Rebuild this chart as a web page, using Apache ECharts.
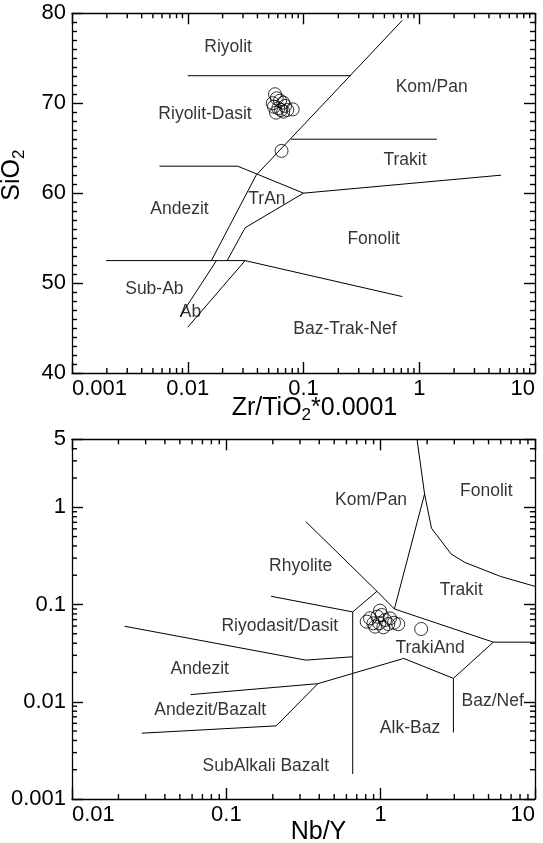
<!DOCTYPE html>
<html><head><meta charset="utf-8">
<script src="https://cdn.jsdelivr.net/npm/echarts@6/dist/echarts.min.js"></script>
<style>html,body{margin:0;padding:0;background:#fff}#c{width:543px;height:843px}</style>
</head><body><div id="c"></div>
<script>
// ================= DATA =================
// --- Top panel: SiO2 vs Zr/TiO2*0.0001 ---
const topSamples = [
  [0.0567,71.0],[0.0587,70.55],[0.0627,70.28],[0.0556,69.61],[0.0579,68.95],
  [0.0640,69.25],[0.0692,69.7],[0.0725,69.25],[0.0806,69.32],[0.0669,69.06],
  [0.0606,69.44],[0.0542,70.0],[0.0669,70.07],[0.0646,64.7]
];
const topRiyolitLine   = [[0.01,73.06],[0.2566,73.06]];
const topDiagonal      = [[0.713,79.2],[0.039,62.0],[0.0160,52.5]];
const topSubAbAbLine   = [[0.0177,52.5],[0.0086,46.3]];
const topTrAnRight     = [[0.1,60.0],[0.0313,56.15],[0.0219,52.5]];
const topHorizontal52  = [[0.00197,52.5],[0.0313,52.5]];
const topAbRight       = [[0.0313,52.5],[0.0100,45.1]];
const topFonolitBTN    = [[0.0313,52.5],[0.713,48.5]];
const topAndezitTrAn   = [[0.0057,63.0],[0.027,63.0],[0.1,60.0]];
const topTrakitFonolit = [[0.1,60.0],[5.1,62.0]];
const topKomPanTrakit  = [[0.0777,66.0],[1.42,66.0]];
const topFieldNames = ['Riyolit','Kom/Pan','Riyolit-Dasit','Trakit','TrAn','Andezit','Fonolit','Sub-Ab','Ab','Baz-Trak-Nef'];
const topFieldX     = [0.0223,1.28,0.0141,0.753,0.0483,0.00848,0.404,0.00515,0.01057,0.228];
const topFieldY     = [76.2,71.76,68.76,63.67,59.3,58.22,54.9,49.3,46.8,44.86];

// --- Bottom panel: Zr/TiO2*0.0001 vs Nb/Y ---
const botSamples = [
  [0.812,0.0666],[0.897,0.0641],[0.952,0.075],[0.990,0.0864],[1.016,0.078],
  [0.980,0.0641],[1.067,0.0693],[1.12,0.063],[1.22,0.065],[1.30,0.0627],
  [1.04,0.0583],[0.919,0.0592],[0.853,0.0721],[1.15,0.0721],[1.83,0.056]
];
const botFonolitLine   = [[1.72,5],[1.925,1.37],[2.135,0.609],[2.855,0.332],[3.51,0.271],[5.96,0.1947],[10,0.1537]];
const botKomPanTrakit  = [[1.925,1.37],[1.227,0.090]];
const botRhyoliteUpper = [[0.327,0.713],[0.947,0.1367],[1.227,0.090]];
const botRiyodasitBox  = [[0.947,0.1367],[0.659,0.0839],[0.659,0.00181]];
const botRhyRiyodasit  = [[0.195,0.1215],[0.659,0.0839]];
const botAndezitRiyo   = [[0.0219,0.0598],[0.327,0.0268],[0.659,0.029]];
const botAndezitAB     = [[0.0586,0.01184],[0.392,0.01534],[1.411,0.0279],[2.96,0.0174],[5.37,0.041],[10,0.041]];
const botTrakiUpper    = [[1.227,0.090],[5.37,0.041]];
const botAlkBazNef     = [[2.96,0.0174],[2.96,0.00483]];
const botABSubAlk      = [[0.02834,0.00475],[0.2105,0.00565],[0.392,0.01534]];
const botFieldNames = ['Fonolit','Kom/Pan','Rhyolite','Trakit','Riyodasit/Dasit','TrakiAnd','Andezit','Baz/Nef','Andezit/Bazalt','Alk-Baz','SubAlkali Bazalt'];
const botFieldX     = [4.84,0.867,0.303,3.33,0.222,2.09,0.0673,5.32,0.0787,1.549,0.1803];
const botFieldY     = [1.48,1.17,0.2505,0.14,0.0598,0.0359,0.0215,0.0102,0.00818,0.0053,0.0022];

// minor tick multipliers for log axes
const logMinorMult = [2,3,4,5,6,7,8,9];
const topXDecades = [0.001,0.01,0.1,1];
const botXDecades = [0.01,0.1,1];
const botYDecades = [0.001,0.01,0.1,1];

// ================= STYLE =================
const FONT = "'Liberation Sans', Arial, Helvetica, sans-serif";
const INK = '#000';
const MAJOR = 11, MINOR = 5, TICKW = 1.4;
const G0 = {left:72, top:13.3, width:463, height:359.7, outerBoundsMode:'none', containLabel:false};
const G1 = {left:72, top:439.3, width:463, height:359.7, outerBoundsMode:'none', containLabel:false};

function minorList(decades, maxV){
  const out = [];
  decades.forEach(d => logMinorMult.forEach(m => { const v = +(m*d).toPrecision(6); if (v < maxV) out.push(v); }));
  return out;
}

function axisCommon(extra){
  return Object.assign({
    axisLine:{show:true, lineStyle:{color:INK, width:1.3}},
    axisTick:{show:true, inside:true, length:MAJOR, lineStyle:{color:INK, width:TICKW}},
    splitLine:{show:false},
    axisLabel:{color:INK, fontFamily:FONT, fontSize:22},
  }, extra);
}

const nameRich = {
  a:{fontFamily:FONT, fontSize:25, color:INK},
  s:{fontFamily:FONT, fontSize:17, color:INK, padding:[14,0,0,0]}
};

function lineSeries(data, xi, yi){
  return {type:'line', xAxisIndex:xi, yAxisIndex:yi, data:data, symbol:'none', silent:true,
    lineStyle:{color:INK, width:1}, z:3};
}

function labelSeries(names, xs, ys, xi, yi){
  return {type:'scatter', xAxisIndex:xi, yAxisIndex:yi, symbolSize:0, silent:true,
    data: names.map((n,i)=>({name:n, value:[xs[i], ys[i]]})),
    label:{show:true, position:'inside', formatter:'{b}', color:INK, fontFamily:FONT, fontSize:17.5}, z:4};
}

function xMinorSeries(vals, yLo, yHi, xi, yi){
  return {type:'custom', xAxisIndex:xi, yAxisIndex:yi, z:6,
    data: vals.map(v=>[v, yLo]),
    renderItem:(params, api)=>{
      const v = api.value(0);
      const b = api.coord([v, yLo]), t = api.coord([v, yHi]);
      return {type:'group', children:[
        {type:'line', shape:{x1:b[0], y1:b[1], x2:b[0], y2:b[1]-MINOR}, style:{stroke:INK, lineWidth:TICKW}},
        {type:'line', shape:{x1:t[0], y1:t[1], x2:t[0], y2:t[1]+MINOR}, style:{stroke:INK, lineWidth:TICKW}}
      ]};
    }};
}
function yMinorSeries(vals, xLo, xHi, xi, yi){
  return {type:'custom', xAxisIndex:xi, yAxisIndex:yi, z:6,
    data: vals.map(v=>[xLo, v]),
    renderItem:(params, api)=>{
      const v = api.value(1);
      const l = api.coord([xLo, v]), r = api.coord([xHi, v]);
      return {type:'group', children:[
        {type:'line', shape:{x1:l[0], y1:l[1], x2:l[0]+MINOR, y2:l[1]}, style:{stroke:INK, lineWidth:TICKW}},
        {type:'line', shape:{x1:r[0], y1:r[1], x2:r[0]-MINOR, y2:r[1]}, style:{stroke:INK, lineWidth:TICKW}}
      ]};
    }};
}

const sampleStyle = {color:'rgba(0,0,0,0)', borderColor:INK, borderWidth:1};
const minorTickStyle = {show:true, splitNumber:10, length:MINOR, lineStyle:{color:INK, width:TICKW}};

const option = {
  animation:false,
  backgroundColor:'#fff',
  grid:[G0, G1],
  xAxis:[
    axisCommon({type:'log', logBase:10, gridIndex:0, position:'bottom', min:0.001, max:10,
      axisLabel:{color:INK, fontFamily:FONT, fontSize:22, margin:5, alignMinLabel:'left', alignMaxLabel:'right'},
      name:'{a|Zr/TiO}{s|2}{a|*0.0001}', nameLocation:'middle', nameGap:20, nameMoveOverlap:false,
      nameTextStyle:{rich:nameRich, padding:[0,0,0,22]}}),
    axisCommon({type:'log', logBase:10, gridIndex:0, position:'top', min:0.001, max:10, axisLabel:{show:false}}),
    axisCommon({type:'log', logBase:10, gridIndex:1, position:'bottom', min:0.01, max:10,
      axisLabel:{color:INK, fontFamily:FONT, fontSize:22, margin:5, alignMinLabel:'left', alignMaxLabel:'right'},
      name:'{a|Nb/Y}', nameLocation:'middle', nameGap:21, nameMoveOverlap:false,
      nameTextStyle:{rich:nameRich, padding:[0,0,0,30]}}),
    axisCommon({type:'log', logBase:10, gridIndex:1, position:'top', min:0.01, max:10, axisLabel:{show:false}})
  ],
  yAxis:[
    axisCommon({type:'value', gridIndex:0, position:'left', min:40, max:80, interval:10,
      minorTick:minorTickStyle,
      axisLabel:{color:INK, fontFamily:FONT, fontSize:22, margin:6},
      name:'{a|SiO}{s|2}', nameLocation:'middle', nameGap:44,
      nameTextStyle:{rich:nameRich, padding:[0,0,0,36]}}),
    axisCommon({type:'value', gridIndex:0, position:'right', min:40, max:80, interval:10,
      minorTick:minorTickStyle, axisLabel:{show:false}}),
    axisCommon({type:'log', logBase:10, gridIndex:1, position:'left', min:0.001, max:5,
      axisLabel:{color:INK, fontFamily:FONT, fontSize:22, margin:6},
      name:'{a|Zr/TiO}{s|2}{a|*0.0001}', nameLocation:'middle', nameGap:45,
      nameTextStyle:{rich:nameRich, padding:[0,0,0,38]}}),
    axisCommon({type:'log', logBase:10, gridIndex:1, position:'right', min:0.001, max:5, axisLabel:{show:false}})
  ],
  series:[
    ...[topRiyolitLine, topDiagonal, topSubAbAbLine, topTrAnRight, topHorizontal52, topAbRight,
        topFonolitBTN, topAndezitTrAn, topTrakitFonolit, topKomPanTrakit].map(d=>lineSeries(d,0,0)),
    labelSeries(topFieldNames, topFieldX, topFieldY, 0, 0),
    {type:'scatter', xAxisIndex:0, yAxisIndex:0, data:topSamples, symbol:'circle', symbolSize:13,
      itemStyle:sampleStyle, z:5, silent:true},
    xMinorSeries(minorList(topXDecades, 10), 40, 80, 0, 0),
    ...[botFonolitLine, botKomPanTrakit, botRhyoliteUpper, botRiyodasitBox, botRhyRiyodasit, botAndezitRiyo,
        botAndezitAB, botTrakiUpper, botAlkBazNef, botABSubAlk].map(d=>lineSeries(d,2,2)),
    labelSeries(botFieldNames, botFieldX, botFieldY, 2, 2),
    {type:'scatter', xAxisIndex:2, yAxisIndex:2, data:botSamples, symbol:'circle', symbolSize:13,
      itemStyle:sampleStyle, z:5, silent:true},
    xMinorSeries(minorList(botXDecades, 10), 0.001, 5, 2, 2),
    yMinorSeries(minorList(botYDecades, 5), 0.01, 10, 2, 2)
  ]
};

const chart = echarts.init(document.getElementById('c'), null, {renderer:'canvas'});
chart.setOption(option);
</script>
</body></html>
